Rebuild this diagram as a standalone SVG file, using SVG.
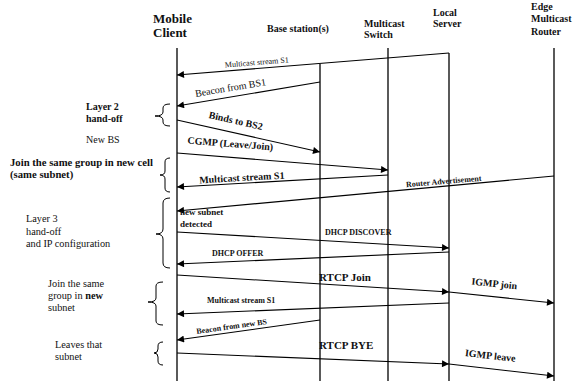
<svg xmlns="http://www.w3.org/2000/svg" width="573" height="381" viewBox="0 0 573 381">
<style>
text{font-family:"Liberation Serif","Times New Roman",serif;fill:#111}
.b{font-weight:bold}
.life{stroke:#000;stroke-width:1.3;fill:none}
.msg{stroke:#000;stroke-width:1.1;fill:none;marker-end:url(#ah)}
.br{stroke:#000;stroke-width:1;fill:none}
</style>
<defs>
<marker id="ah" viewBox="0 0 10 10" refX="10" refY="5" markerWidth="9" markerHeight="7" markerUnits="userSpaceOnUse" orient="auto">
<path d="M0,0 L10,5 L0,10 z" fill="#000"/>
</marker>
</defs>
<rect width="573" height="381" fill="#fff"/>
<g id="mobile-client">
<text class="b" x="153" y="23" font-size="13">Mobile</text>
<text class="b" x="153" y="37" font-size="13">Client</text>
<line class="life" x1="177" y1="48" x2="177" y2="381"/>
</g>
<g id="base-station">
<text class="b" x="267" y="32" font-size="10">Base station(s)</text>
<line class="life" x1="320" y1="64" x2="320" y2="381"/>
</g>
<g id="multicast-switch">
<text class="b" x="364" y="27" font-size="10">Multicast</text>
<text class="b" x="364" y="38" font-size="10">Switch</text>
<line class="life" x1="388" y1="48" x2="388" y2="381"/>
</g>
<g id="local-server">
<text class="b" x="433" y="16" font-size="10">Local</text>
<text class="b" x="433" y="27" font-size="10">Server</text>
<line class="life" x1="449" y1="53" x2="449" y2="381"/>
</g>
<g id="edge-router">
<text class="b" x="531" y="10" font-size="10">Edge</text>
<text class="b" x="531" y="22" font-size="10">Multicast</text>
<text class="b" x="531" y="35" font-size="10">Router</text>
<line class="life" x1="554" y1="48" x2="554" y2="381"/>
</g>
<g id="phase-labels">
<text class="b" x="86" y="110" font-size="10">Layer 2</text>
<text class="b" x="86" y="122" font-size="10">hand-off</text>
<path class="br" d="M170,104 Q163,104 163,108 L163,112 Q163,116 155,116 Q163,116 163,120 L163,122 Q163,126 170,126"/>
<text x="86" y="143" font-size="10">New BS</text>
<text class="b" x="10" y="166" font-size="10.7">Join the same group in new cell</text>
<text class="b" x="10" y="178" font-size="10.7">(same subnet)</text>
<path class="br" d="M170,158 Q165,158 165,162 L165,171 Q165,175 160,175 Q165,175 165,179 L165,188 Q165,192 170,192"/>
<text x="26" y="222" font-size="10.3">Layer 3</text>
<text x="26" y="235" font-size="10.3">hand-off</text>
<text x="26" y="247" font-size="10.3">and IP configuration</text>
<path class="br" d="M170,198 Q163,198 163,203 L163,229 Q163,234 156,234 Q163,234 163,239 L163,263 Q163,268 170,268"/>
<text x="48" y="287" font-size="10.3">Join the same</text>
<text x="48" y="299" font-size="10.3">group in <tspan class="b">new</tspan></text>
<text x="48" y="311" font-size="10.3">subnet</text>
<path class="br" d="M163,282 Q156,282 156,286 L156,298 Q156,302 148,302 Q156,302 156,306 L156,321 Q156,325 163,325"/>
<text x="55" y="348" font-size="10.3">Leaves that</text>
<text x="55" y="360" font-size="10.3">subnet</text>
<path class="br" d="M163,342 Q158,342 158,346 L158,349 Q158,353 154,353 Q158,353 158,357 L158,361 Q158,365 163,365"/>
</g>
<g id="connectors">
<line class="msg" x1="449" y1="53" x2="177" y2="75"/>
<line class="msg" x1="320" y1="82" x2="177" y2="106"/>
<line class="msg" x1="177" y1="120" x2="320" y2="152"/>
<line class="msg" x1="177" y1="153" x2="388" y2="170"/>
<line class="msg" x1="388" y1="175" x2="177" y2="187"/>
<line class="msg" x1="554" y1="176" x2="177" y2="211"/>
<line class="msg" x1="177" y1="232" x2="449" y2="248"/>
<line class="msg" x1="449" y1="252" x2="177" y2="264"/>
<line class="msg" x1="177" y1="275" x2="449" y2="292"/>
<line class="msg" x1="449" y1="292" x2="554" y2="303"/>
<line class="msg" x1="449" y1="303" x2="177" y2="314"/>
<line class="msg" x1="320" y1="320" x2="177" y2="340"/>
<line class="msg" x1="177" y1="353" x2="449" y2="364"/>
<line class="msg" x1="449" y1="364" x2="554" y2="376" stroke-width="2"/>
</g>
<g id="message-labels">
<text transform="translate(257,65) rotate(-4.6)" text-anchor="middle" font-size="8">Multicast stream S1</text>
<text transform="translate(231,91) rotate(-9.5)" text-anchor="middle" font-size="10">Beacon from  BS1</text>
<text class="b" transform="translate(235,124) rotate(12.6)" text-anchor="middle" font-size="10">Binds to BS2</text>
<text class="b" transform="translate(230,147) rotate(4.6)" text-anchor="middle" font-size="10">CGMP (Leave/Join)</text>
<text class="b" transform="translate(242,181) rotate(-3.2)" text-anchor="middle" font-size="10">Multicast stream S1</text>
<text class="b" transform="translate(444,184) rotate(-4.8)" text-anchor="middle" font-size="8">Router Advertisement</text>
<text class="b" x="180" y="215" font-size="9">new subnet</text>
<text class="b" x="180" y="227" font-size="9">detected</text>
<text class="b" x="325" y="235" font-size="8">DHCP DISCOVER</text>
<text class="b" x="212" y="256" font-size="8">DHCP OFFER</text>
<text class="b" x="319" y="281" font-size="11">RTCP Join</text>
<text class="b" transform="translate(494,287) rotate(6)" text-anchor="middle" font-size="10">IGMP join</text>
<text class="b" x="207" y="303" font-size="8">Multicast stream S1</text>
<text class="b" transform="translate(232,329) rotate(-8)" text-anchor="middle" font-size="8">Beacon from new BS</text>
<text class="b" x="319" y="349" font-size="11">RTCP BYE</text>
<text class="b" transform="translate(490,359) rotate(6.5)" text-anchor="middle" font-size="10">IGMP leave</text>
</g>
</svg>
